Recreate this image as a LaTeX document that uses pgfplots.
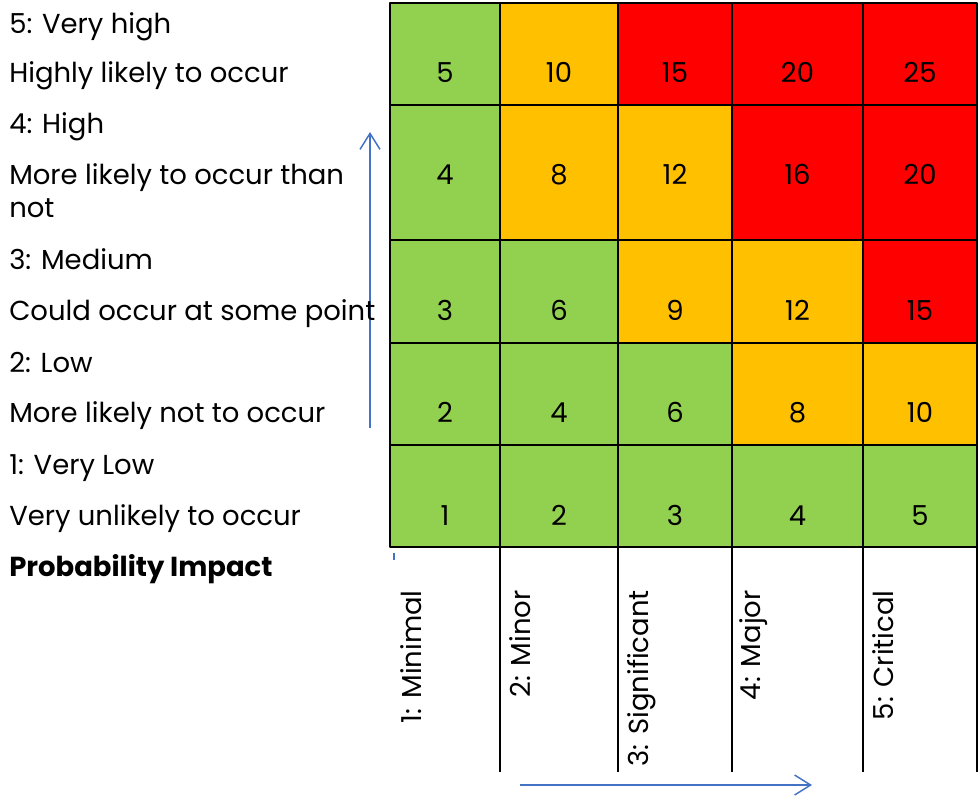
\documentclass[border=0pt]{standalone}
\usepackage{fontspec}
\setmainfont{Poppins}
\usepackage{pgfplots}
\usepackage{pgfplotstable}
\pgfplotsset{compat=1.18}
\usetikzlibrary{arrows.meta}

\definecolor{riskgreen}{RGB}{146,208,80}
\definecolor{riskamber}{RGB}{255,192,0}
\definecolor{riskred}{RGB}{255,0,0}
\definecolor{arrowblue}{RGB}{68,114,196}

% cell corners in picture units, k = 0 green, 1 amber, 2 red
\pgfplotstableread{
x y k
390 3 0
500 3 0
500 105 0
390 105 0
500 3 1
618 3 1
618 105 1
500 105 1
618 3 2
732 3 2
732 105 2
618 105 2
732 3 2
863 3 2
863 105 2
732 105 2
863 3 2
977 3 2
977 105 2
863 105 2
390 105 0
500 105 0
500 240 0
390 240 0
500 105 1
618 105 1
618 240 1
500 240 1
618 105 1
732 105 1
732 240 1
618 240 1
732 105 2
863 105 2
863 240 2
732 240 2
863 105 2
977 105 2
977 240 2
863 240 2
390 240 0
500 240 0
500 343 0
390 343 0
500 240 0
618 240 0
618 343 0
500 343 0
618 240 1
732 240 1
732 343 1
618 343 1
732 240 1
863 240 1
863 343 1
732 343 1
863 240 2
977 240 2
977 343 2
863 343 2
390 343 0
500 343 0
500 445 0
390 445 0
500 343 0
618 343 0
618 445 0
500 445 0
618 343 0
732 343 0
732 445 0
618 445 0
732 343 1
863 343 1
863 445 1
732 445 1
863 343 1
977 343 1
977 445 1
863 445 1
390 445 0
500 445 0
500 547 0
390 547 0
500 445 0
618 445 0
618 547 0
500 547 0
618 445 0
732 445 0
732 547 0
618 547 0
732 445 0
863 445 0
863 547 0
732 547 0
863 445 0
977 445 0
977 547 0
863 547 0
}\cells

% risk score = probability x impact
\pgfplotstableread{
x y v
445 82 5
559 82 10
675 82 15
797.5 82 20
920 82 25
445 184 4
559 184 8
675 184 12
797.5 184 16
920 184 20
445 320 3
559 320 6
675 320 9
797.5 320 12
920 320 15
445 422 2
559 422 4
675 422 6
797.5 422 8
920 422 10
445 525 1
559 525 2
675 525 3
797.5 525 4
920 525 5
}\scores

\begin{document}
\begin{tikzpicture}[font=\fontsize{20.6}{24}\selectfont]
\begin{axis}[
    width=734.25pt, height=595.5pt, scale only axis,
    xmin=0, xmax=979, ymin=0, ymax=794, y dir=reverse,
    hide axis, clip=false,
    colormap={risk}{color=(riskgreen) color=(riskamber) color=(riskred)},
]
\path (axis cs:0,0) rectangle (axis cs:979,794);

\addplot [patch, patch type=rectangle, shader=faceted, faceted color=black,
    line width=2pt, colormap access=direct, point meta=\thisrow{k}]
    table {\cells};

\addplot [draw=none, mark=none, nodes near coords, point meta=explicit symbolic,
    nodes near coords style={anchor=base, inner sep=0pt}]
    table [meta=v] {\scores};

% column lines under the grid
\addplot [black, line width=2pt, unbounded coords=jump] coordinates {
    (500,547) (500,772) (nan,nan)
    (618,547) (618,772) (nan,nan)
    (732,547) (732,772) (nan,nan)
    (863,547) (863,772) (nan,nan)
    (977,547) (977,772)};
\addplot [arrowblue, line width=0.8pt] coordinates {(394,553) (394,560)};

% arrows
\addplot [arrowblue, line width=1.1pt, -{Straight Barb[length=12pt, width=15pt]}]
    coordinates {(370,428) (370,132)};
\addplot [arrowblue, line width=1.1pt, -{Straight Barb[length=12pt, width=15pt]}]
    coordinates {(520,785) (812,785)};

% probability descriptions
\begin{scope}[every node/.style={anchor=base west, inner sep=0pt}]
\node at (axis cs:9,33) {5: Very high};
\node at (axis cs:9,82) {Highly likely to occur};
\node at (axis cs:9,133) {4: High};
\node at (axis cs:9,184) {More likely to occur than};
\node at (axis cs:9,217) {not};
\node at (axis cs:9,269) {3: Medium};
\node at (axis cs:9,320) {Could occur at some point};
\node at (axis cs:9,372) {2: Low};
\node at (axis cs:9,422) {More likely not to occur};
\node at (axis cs:9,474) {1: Very Low};
\node at (axis cs:9,525) {Very unlikely to occur};
\node at (axis cs:9,576) {\bfseries Probability Impact};
\end{scope}

% impact labels
\begin{scope}[every node/.style={rotate=90, anchor=base east, inner sep=0pt}]
\node at (axis cs:421,590) {1: Minimal};
\node at (axis cs:530,590) {2: Minor};
\node at (axis cs:648,590) {3: Significant};
\node at (axis cs:760,590) {4: Major};
\node at (axis cs:893,590) {5: Critical};
\end{scope}
\end{axis}
\end{tikzpicture}
\end{document}
